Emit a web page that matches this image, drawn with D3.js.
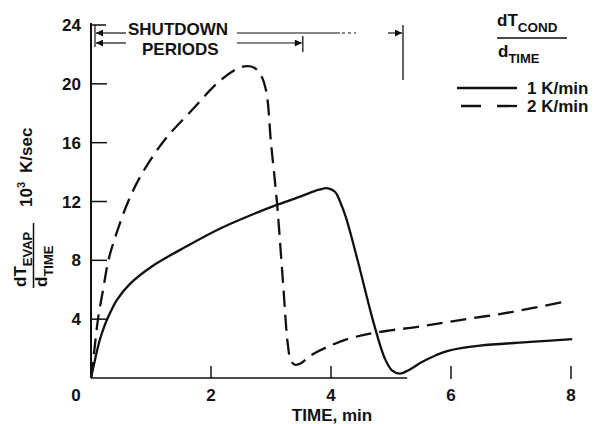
<!DOCTYPE html>
<html>
<head>
<meta charset="utf-8">
<script src="https://cdn.jsdelivr.net/npm/d3@7"></script>
<style>
  html, body { margin: 0; padding: 0; background: #fff; }
  svg { display: block; font-family: "Liberation Sans", Arial, Helvetica, sans-serif; }
</style>
</head>
<body>
<svg id="chart" width="601" height="424"></svg>
<script>
// ---- data ----
const xTicks = [0, 2, 4, 6, 8];
const yTicks = [4, 8, 12, 16, 20, 24];
const seriesNames = ["1 K/min", "2 K/min"];

// 1 K/min (solid)
const time1 = [0, 0.07, 0.14, 0.22, 0.27, 0.43, 0.65, 1.02, 1.57, 2.12, 2.68, 3.12, 3.5, 3.8, 3.95, 4.07, 4.15, 4.25, 4.45, 4.7, 4.9, 5.02, 5.15, 5.3, 5.5, 5.75, 5.95, 6.48, 7.32, 8.02];
const rate1 = [0, 1.3, 2.5, 3.5, 4.0, 5.3, 6.4, 7.6, 8.9, 10.1, 11.1, 11.8, 12.35, 12.8, 12.9, 12.65, 12.0, 10.9, 7.9, 3.9, 1.3, 0.5, 0.3, 0.55, 1.05, 1.55, 1.85, 2.2, 2.45, 2.65];

// 2 K/min (dashed)
const time2 = [0, 0.05, 0.12, 0.21, 0.29, 0.43, 0.62, 0.85, 1.23, 1.68, 2.12, 2.45, 2.6, 2.72, 2.83, 2.92, 3.0, 3.1, 3.2, 3.28, 3.33, 3.4, 3.5, 3.65, 3.93, 4.32, 4.77, 5.48, 5.93, 7.03, 7.9];
const rate2 = [0, 1.7, 4.1, 6.2, 8.0, 9.9, 12.0, 13.9, 16.2, 18.2, 20.1, 21.05, 21.2, 21.1, 20.6, 19.5, 16.0, 11.9, 6.5, 2.3, 1.2, 0.9, 1.0, 1.5, 2.1, 2.7, 3.1, 3.5, 3.8, 4.5, 5.2];

// end of shutdown periods (min) for 2 K/min and 1 K/min
const shutdownEnds = [3.53, 5.2];

// ---- drawing ----
const svg = d3.select("#chart");
svg.append("rect").attr("width", 601).attr("height", 424).attr("fill", "#fff");

const x = d3.scaleLinear().domain([0, 8]).range([91, 571]);
const y = d3.scaleLinear().domain([0, 24]).range([378, 25]);

const ink = "#111";

// y axis line
svg.append("line").attr("x1", x(0)).attr("x2", x(0)).attr("y1", y(0)).attr("y2", y(24) - 2)
  .attr("stroke", ink).attr("stroke-width", 2);
// x axis line (partial, as in the original)
svg.append("line").attr("x1", x(0)).attr("x2", x(5.27)).attr("y1", y(0)).attr("y2", y(0))
  .attr("stroke", ink).attr("stroke-width", 1.6);

// y ticks (inward)
svg.selectAll(".yt").data(yTicks).enter().append("line")
  .attr("x1", x(0)).attr("x2", d => x(0) + (d === 24 ? 15 : 16))
  .attr("y1", d => y(d)).attr("y2", d => y(d))
  .attr("stroke", ink).attr("stroke-width", 1.5);
svg.selectAll(".yl").data(yTicks).enter().append("text")
  .attr("x", x(0) - 10).attr("y", d => y(d) + 6)
  .attr("text-anchor", "end").attr("font-size", 17).attr("font-weight", "bold").attr("fill", ink)
  .text(d => d);

// x ticks (upward)
svg.selectAll(".xt").data(xTicks.filter(d => d > 0)).enter().append("line")
  .attr("x1", d => x(d)).attr("x2", d => x(d))
  .attr("y1", y(0) - 12).attr("y2", d => d > 5 ? y(0) + 1 : y(0))
  .attr("stroke", ink).attr("stroke-width", 1.5);
svg.selectAll(".xl").data(xTicks).enter().append("text")
  .attr("x", d => d === 0 ? x(d) - 15 : x(d)).attr("y", 401)
  .attr("text-anchor", "middle").attr("font-size", 17).attr("font-weight", "bold").attr("fill", ink)
  .text(d => d);

svg.append("text").attr("x", 332).attr("y", 421).attr("text-anchor", "middle")
  .attr("font-size", 17).attr("font-weight", "bold").attr("fill", ink).text("TIME, min");

// y axis label (rotated)
const num = svg.append("text").attr("transform", "translate(26,287) rotate(-90)")
  .attr("font-weight", "bold").attr("fill", ink);
num.append("tspan").attr("font-size", 17).text("dT");
num.append("tspan").attr("font-size", 13).attr("dy", 6).text("EVAP");
svg.append("line").attr("x1", 33.5).attr("x2", 33.5).attr("y1", 223).attr("y2", 288)
  .attr("stroke", ink).attr("stroke-width", 1.5);
const den = svg.append("text").attr("transform", "translate(47,287) rotate(-90)")
  .attr("font-weight", "bold").attr("fill", ink);
den.append("tspan").attr("font-size", 17).text("d");
den.append("tspan").attr("font-size", 13).attr("dy", 6).text("TIME");
const unit = svg.append("text").attr("transform", "translate(32,207) rotate(-90)")
  .attr("font-weight", "bold").attr("fill", ink);
unit.append("tspan").attr("font-size", 17).text("10");
unit.append("tspan").attr("font-size", 11).attr("dy", -7).text("3");
unit.append("tspan").attr("font-size", 17).attr("dy", 7).attr("dx", 9).text("K/sec");

// lines
const line = d3.line().x(d => x(d[0])).y(d => y(d[1])).curve(d3.curveCatmullRom.alpha(0.5));
const solidData = time1.map((t, i) => [t, rate1[i]]);
const dashedData = time2.map((t, i) => [t, rate2[i]]);
svg.append("path").datum(solidData).attr("d", line)
  .attr("fill", "none").attr("stroke", ink).attr("stroke-width", 2.3);
svg.append("path").datum(dashedData).attr("d", line)
  .attr("fill", "none").attr("stroke", ink).attr("stroke-width", 2.3).attr("stroke-dasharray", "16,8");

// shutdown annotation
const defs = svg.append("defs");
defs.append("marker").attr("id", "arr").attr("viewBox", "0 0 10 10").attr("refX", 10).attr("refY", 5)
  .attr("markerWidth", 10).attr("markerHeight", 7).attr("markerUnits", "userSpaceOnUse").attr("orient", "auto")
  .append("path").attr("d", "M0,0 L10,5 L0,10 Z").attr("fill", ink);

svg.append("text").attr("x", 128).attr("y", 35).attr("font-size", 17).attr("font-weight", "bold").attr("fill", ink).text("SHUTDOWN");
svg.append("text").attr("x", 142).attr("y", 55).attr("font-size", 17).attr("font-weight", "bold").attr("fill", ink).text("PERIODS");

// left arrows
svg.append("line").attr("x1", 126).attr("x2", x(0) + 5).attr("y1", 33).attr("y2", 33)
  .attr("stroke", ink).attr("stroke-width", 1.2).attr("marker-end", "url(#arr)");
svg.append("line").attr("x1", 126).attr("x2", x(0) + 5).attr("y1", 43).attr("y2", 43)
  .attr("stroke", ink).attr("stroke-width", 1.2).attr("marker-end", "url(#arr)");
svg.append("line").attr("x1", x(0) + 4).attr("x2", x(0) + 4).attr("y1", 25).attr("y2", 47)
  .attr("stroke", ink).attr("stroke-width", 1.2);

// PERIODS (2 K/min) arrow
svg.append("line").attr("x1", 237).attr("x2", x(shutdownEnds[0]) - 1).attr("y1", 43).attr("y2", 43)
  .attr("stroke", ink).attr("stroke-width", 1.2).attr("marker-end", "url(#arr)");
svg.append("line").attr("x1", x(shutdownEnds[0])).attr("x2", x(shutdownEnds[0])).attr("y1", 36).attr("y2", 52)
  .attr("stroke", ink).attr("stroke-width", 1.3);

// SHUTDOWN (1 K/min) arrow
svg.append("line").attr("x1", 237).attr("x2", 340).attr("y1", 33).attr("y2", 33)
  .attr("stroke", ink).attr("stroke-width", 1.2);
svg.append("line").attr("x1", 342).attr("x2", 356).attr("y1", 33).attr("y2", 33)
  .attr("stroke", ink).attr("stroke-width", 1.2).attr("stroke-dasharray", "3,3");
svg.append("line").attr("x1", 388).attr("x2", x(shutdownEnds[1]) - 1).attr("y1", 33).attr("y2", 33)
  .attr("stroke", ink).attr("stroke-width", 1.2).attr("marker-end", "url(#arr)");
svg.append("line").attr("x1", x(shutdownEnds[1])).attr("x2", x(shutdownEnds[1])).attr("y1", 25).attr("y2", 80)
  .attr("stroke", ink).attr("stroke-width", 1.3);

// legend
const lt = svg.append("text").attr("x", 497).attr("y", 26).attr("font-weight", "bold").attr("fill", ink);
lt.append("tspan").attr("font-size", 17).text("dT");
lt.append("tspan").attr("font-size", 13.5).attr("dy", 6).text("COND");
svg.append("line").attr("x1", 497).attr("x2", 567).attr("y1", 38).attr("y2", 38)
  .attr("stroke", ink).attr("stroke-width", 1.5);
const lb = svg.append("text").attr("x", 498).attr("y", 57).attr("font-weight", "bold").attr("fill", ink);
lb.append("tspan").attr("font-size", 17).text("d");
lb.append("tspan").attr("font-size", 13).attr("dy", 6).text("TIME");

const legendY = [88, 106];
svg.selectAll(".lgl").data(seriesNames).enter().append("line")
  .attr("x1", 457).attr("x2", 517).attr("y1", (d, i) => legendY[i]).attr("y2", (d, i) => legendY[i])
  .attr("stroke", ink).attr("stroke-width", 2.3)
  .attr("stroke-dasharray", (d, i) => i === 1 ? "20,16" : null)
  .attr("stroke-dashoffset", (d, i) => i === 1 ? -4 : 0);
svg.selectAll(".lgt").data(seriesNames).enter().append("text")
  .attr("x", 527).attr("y", (d, i) => legendY[i] + 6)
  .attr("font-size", 17).attr("font-weight", "bold").attr("fill", ink).text(d => d);
</script>
</body>
</html>
